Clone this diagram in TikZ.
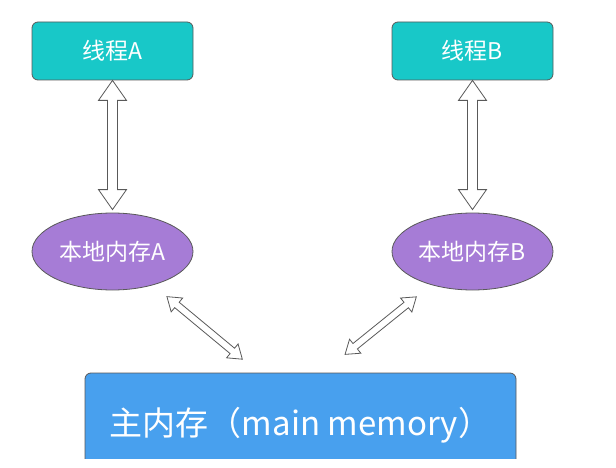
\documentclass[tikz,border=0pt]{standalone}
\usepackage{fontspec}
\setmainfont{Noto Sans CJK SC}
\usepackage{xcolor}
\usetikzlibrary{calc,shapes.geometric}

\definecolor{threadcol}{RGB}{24,200,200}
\definecolor{localcol}{RGB}{166,124,214}
\definecolor{maincol}{RGB}{72,160,238}

\tikzset{
  thread/.style={draw=black!65, line width=0.8pt, fill=threadcol, rounded corners=6pt,
    minimum width=161pt, minimum height=58pt, text=white, font=\fontsize{23}{27}\selectfont},
  localmem/.style={ellipse, draw=black!65, line width=0.8pt, fill=localcol, inner sep=0pt,
    minimum width=161pt, minimum height=77pt, text=white, font=\fontsize{23}{27}\selectfont},
  mainmem/.style={draw=black!65, line width=0.8pt, fill=maincol, rounded corners=6pt,
    minimum width=431pt, minimum height=104pt, text=white, font=\fontsize{33}{38}\selectfont},
  hollow/.style={draw=black!65, line width=0.8pt, fill=white, line join=miter}
}

\newcommand{\arrowdims}[3]{\def\headlen{#1}\def\headwid{#2}\def\shaftwid{#3}}
\newcommand{\hollowarrow}[4]{%
  \path (#1) -- (#2) coordinate[pos=0] (ha) coordinate[pos=1] (hb);
  \coordinate (hp) at ($(ha)!#3!(hb)$);
  \coordinate (hq) at ($(hb)!#4!(ha)$);
  \coordinate (hp1) at ($(hp)!\headlen!(hq)$);
  \coordinate (hq1) at ($(hq)!\headlen!(hp)$);
  \draw[hollow] (hp) -- ($(hp1)!\headwid!90:(hq)$) -- ($(hp1)!\shaftwid!90:(hq)$)
    -- ($(hq1)!\shaftwid!-90:(hp)$) -- ($(hq1)!\headwid!-90:(hp)$) -- (hq)
    -- ($(hq1)!\headwid!90:(hp)$) -- ($(hq1)!\shaftwid!90:(hp)$)
    -- ($(hp1)!\shaftwid!-90:(hq)$) -- ($(hp1)!\headwid!-90:(hq)$) -- cycle;
}

\begin{document}
\begin{tikzpicture}[x=1pt, y=-1pt]
  \useasboundingbox (0,0) rectangle (616,468);

  \node[thread] (tA) at (112.5,51) {线程A};
  \node[thread] (tB) at (472.5,51) {线程B};
  \node[localmem] (lA) at (112.5,251.5) {本地内存A};
  \node[localmem] (lB) at (472.5,251.5) {本地内存B};
  \begin{scope}
    \clip (0,0) rectangle (616,458);
    \node[mainmem] (main) at (300.5,425) {主内存（main memory）};
  \end{scope}

  \arrowdims{20pt}{14pt}{5pt}
  \hollowarrow{tA}{lA}{0pt}{3pt}
  \hollowarrow{tB}{lB}{0pt}{3pt}

  \arrowdims{13pt}{9pt}{3.5pt}
  \hollowarrow{lA}{[xshift=-42]main.north}{18pt}{21pt}
  \hollowarrow{lB}{[xshift=22]main.north}{19pt}{29pt}
\end{tikzpicture}
\end{document}
